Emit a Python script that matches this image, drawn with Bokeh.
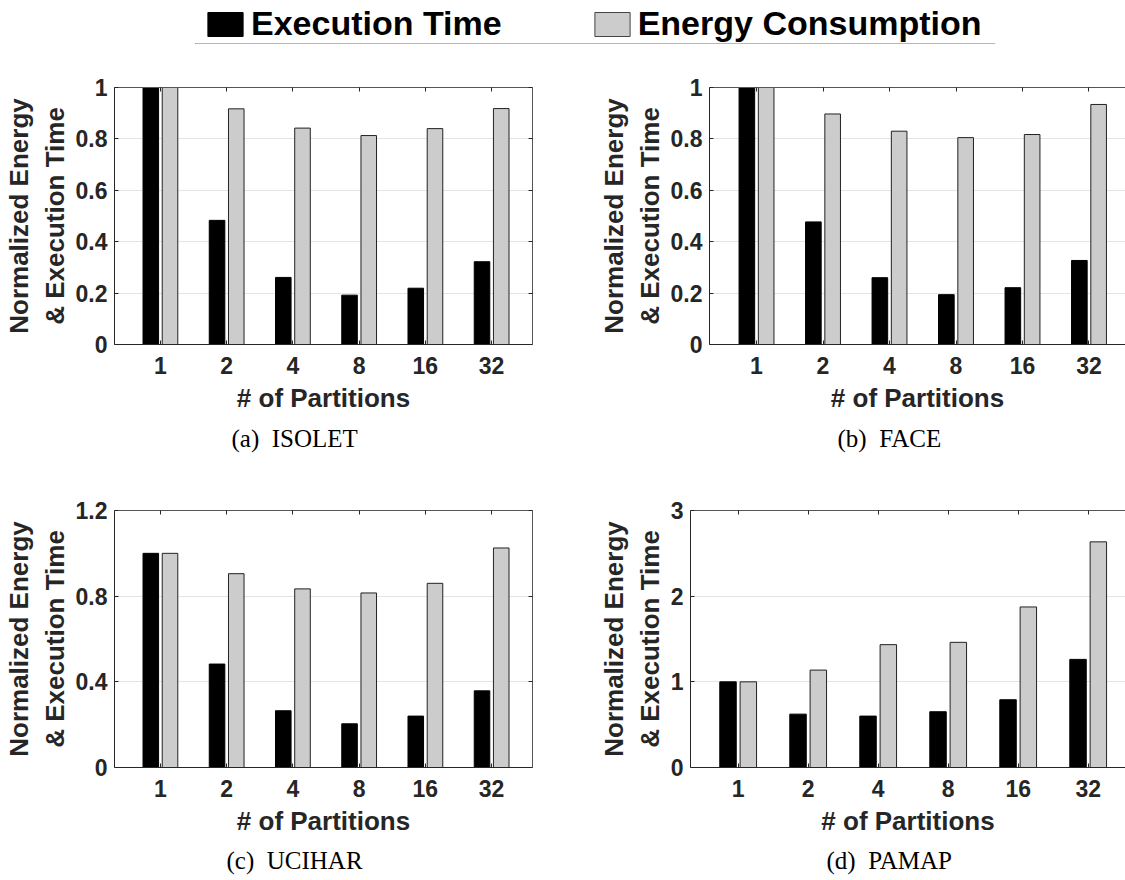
from bokeh.plotting import figure
from bokeh.layouts import column, row
from bokeh.models import (Range1d, FixedTicker, LinearAxis, Title, Legend, LegendItem,
                          Span, ColumnDataSource, CustomJSTickFormatter)
from bokeh.transform import dodge
from bokeh.embed import file_html
from bokeh.resources import INLINE

# ---------------- data ----------------
partitions = ["1", "2", "4", "8", "16", "32"]
series_names = ["Execution Time", "Energy Consumption"]

isolet_time = [1.0, 0.483, 0.261, 0.192, 0.219, 0.322]
isolet_energy = [1.0, 0.917, 0.842, 0.813, 0.840, 0.918]

face_time = [1.0, 0.477, 0.260, 0.194, 0.221, 0.327]
face_energy = [1.0, 0.897, 0.830, 0.805, 0.817, 0.934]

ucihar_time = [1.0, 0.483, 0.265, 0.204, 0.240, 0.358]
ucihar_energy = [1.0, 0.905, 0.834, 0.815, 0.860, 1.025]

pamap_time = [1.0, 0.623, 0.600, 0.651, 0.791, 1.262]
pamap_energy = [1.0, 1.137, 1.434, 1.461, 1.874, 2.634]

ticks_01 = [0, 0.2, 0.4, 0.6, 0.8, 1]
labels_01 = ["0", "0.2", "0.4", "0.6", "0.8", "1"]
ticks_12 = [0, 0.4, 0.8, 1.2]
labels_12 = ["0", "0.4", "0.8", "1.2"]
ticks_3 = [0, 1, 2, 3]
labels_3 = ["0", "1", "2", "3"]

captions = ["(a)\u00a0 ISOLET", "(b)\u00a0 FACE", "(c)\u00a0 UCIHAR", "(d)\u00a0 PAMAP"]

# ---------------- style ----------------
TIME_COLOR = "#000000"
ENERGY_COLOR = "#cccccc"
AX_COLOR = "#262626"
SANS = "Liberation Sans"
SERIF = "Liberation Serif"

positions = list(range(1, len(partitions) + 1))
BLANK = "return ''"


def make_panel(time, energy, ymax, yticks, ylabels, caption, width, height,
               b_left, b_right, b_top, b_bottom, x_start, x_end, right_axis,
               cap_offset, cap_standoff):
    src = ColumnDataSource(dict(x=positions, time=time, energy=energy))
    p = figure(width=width, height=height, x_range=Range1d(x_start, x_end),
               y_range=Range1d(0, ymax), output_backend="svg", toolbar_location=None,
               min_border_left=b_left, min_border_right=b_right,
               min_border_top=b_top, min_border_bottom=b_bottom)
    p.outline_line_color = None
    p.background_fill_color = "white"
    p.border_fill_color = "white"
    p.xgrid.visible = False
    p.ygrid.ticker = FixedTicker(ticks=yticks)
    p.ygrid.grid_line_color = "#e4e4e4"
    p.ygrid.grid_line_width = 1

    p.vbar(x=dodge("x", -0.145), top="time", width=0.235, source=src,
           fill_color=TIME_COLOR, line_color="#000000", line_width=1)
    p.vbar(x=dodge("x", 0.145), top="energy", width=0.235, source=src,
           fill_color=ENERGY_COLOR, line_color="#222222", line_width=1)

    xax = p.below[0]
    yax = p.left[0]
    xax.ticker = FixedTicker(ticks=positions)
    xax.major_label_overrides = {pos: lab for pos, lab in zip(positions, partitions)}
    yax.ticker = FixedTicker(ticks=yticks)
    yax.major_label_overrides = {t: lab for t, lab in zip(yticks, ylabels)}

    extra = []
    top_ax = LinearAxis(ticker=FixedTicker(ticks=positions),
                        formatter=CustomJSTickFormatter(code=BLANK))
    p.add_layout(top_ax, "above")
    extra.append(top_ax)
    if right_axis:
        right_ax = LinearAxis(ticker=FixedTicker(ticks=yticks),
                              formatter=CustomJSTickFormatter(code=BLANK))
        p.add_layout(right_ax, "right")
        extra.append(right_ax)

    for ax in [xax, yax] + extra:
        ax.major_tick_in = 4
        ax.major_tick_out = 0
        ax.minor_tick_line_color = None
        ax.axis_line_color = AX_COLOR
        ax.axis_line_width = 1
        ax.major_tick_line_color = AX_COLOR
        ax.major_label_text_font = SANS
        ax.major_label_text_font_style = "bold"
        ax.major_label_text_font_size = "23px"
        ax.major_label_text_color = AX_COLOR
    for ax in extra:
        ax.major_label_standoff = 0
        ax.axis_line_color = "#555555"

    xax.major_label_standoff = 12
    xax.axis_label = "# of Partitions"
    xax.axis_label_standoff = 6
    yax.major_label_standoff = 7
    yax.axis_label = "Normalized Energy\n& Execution Time"
    yax.axis_label_standoff = 3
    for ax in (xax, yax):
        ax.axis_label_text_font = SANS
        ax.axis_label_text_font_style = "bold"
        ax.axis_label_text_font_size = "26px"
        ax.axis_label_text_color = AX_COLOR

    # sub-figure caption under the x-axis title
    p.add_layout(Title(text=caption, align="left", offset=cap_offset,
                       standoff=cap_standoff, text_font=SERIF,
                       text_font_style="normal", text_font_size="25px",
                       text_color="#000000"), "below")
    return p


# legend strip on top
top = figure(width=1125, height=50, x_range=Range1d(0, 1), y_range=Range1d(0, 1),
             output_backend="svg", toolbar_location=None,
             x_axis_location=None, y_axis_location=None,
             min_border_left=195, min_border_right=130, min_border_top=0,
             min_border_bottom=7)
top.outline_line_color = None
top.grid.visible = False
# legend proxies, placed outside the visible range
r_t = top.vbar(x=[-5], top=[0], width=0.1, fill_color=TIME_COLOR, line_color="#000000")
r_e = top.vbar(x=[-5], top=[0], width=0.1, fill_color=ENERGY_COLOR, line_color="#444444")
legend = Legend(items=[LegendItem(label=series_names[0], renderers=[r_t]),
                       LegendItem(label=series_names[1], renderers=[r_e])],
                orientation="horizontal", location=(8, 0),
                glyph_width=44, glyph_height=30, label_standoff=4, spacing=88,
                padding=0, margin=0, border_line_color=None, background_fill_alpha=0,
                label_text_font=SANS, label_text_font_style="bold",
                label_text_font_size="34px", label_text_color="#000000")
top.add_layout(legend, "center")
top.add_layout(Span(location=0, dimension="width", line_color="#707070", line_width=1))

pa = make_panel(isolet_time, isolet_energy, 1, ticks_01, labels_01, captions[0],
                580, 420, 113, 48, 37, 126, 0.307, 6.617, True, 117, 15)
pb = make_panel(face_time, face_energy, 1, ticks_01, labels_01, captions[1],
                545, 420, 129, 0, 37, 126, 0.293, 6.549, False, 128, 15)
pc = make_panel(ucihar_time, ucihar_energy, 1.2, ticks_12, labels_12, captions[2],
                580, 410, 113, 48, 40, 113, 0.307, 6.617, True, 112, 12)
pd = make_panel(pamap_time, pamap_energy, 3, ticks_3, labels_3, captions[3],
                545, 410, 110, 0, 40, 113, 0.319, 6.533, False, 136, 12)

layout = column(top, row(pa, pb), row(pc, pd))
open("out.html", "w").write(file_html(layout, INLINE))
